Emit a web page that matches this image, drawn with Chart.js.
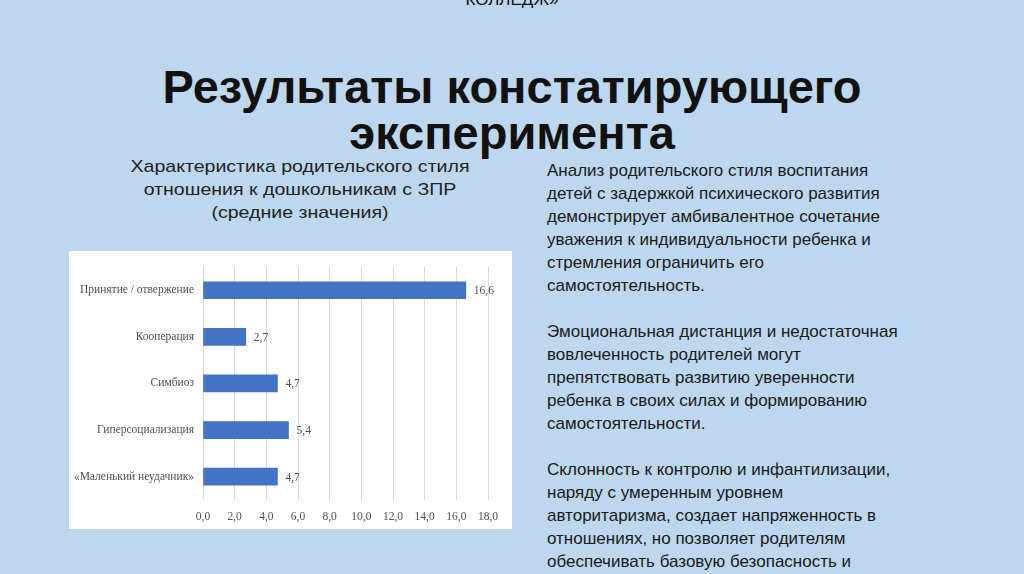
<!DOCTYPE html>
<html lang="ru">
<head>
<meta charset="utf-8">
<script src="https://cdn.jsdelivr.net/npm/chart.js@4/dist/chart.umd.min.js"></script>
<style>
    body { margin: 0; width: 1024px; height: 574px; overflow: hidden; background: #bdd7ee; font-family: 'Liberation Sans', Arial, sans-serif; position: relative; }
    .top { position: absolute; top: -10px; left: 0; width: 1024px; text-align: center; font-size: 17px; color: #111; }
    .title { position: absolute; top: 64px; left: 0; width: 1024px; text-align: center; font-weight: bold; font-size: 47px; line-height: 46px; color: #111; }
    .caption { position: absolute; top: 155px; left: 100px; width: 400px; text-align: center; font-size: 17px; line-height: 23px; color: #222; transform: scaleX(1.15); }
    .text { position: absolute; top: 159px; left: 547px; width: 470px; font-size: 17px; line-height: 23px; color: #1a1a1a; }
    .panel { position: absolute; left: 69px; top: 251px; width: 443px; height: 278px; background: #fff; }
</style>
</head>
<body>
<div class="top">КОЛЛЕДЖ»</div>
<div class="title">Результаты констатирующего<br>эксперимента</div>
<div class="caption">Характеристика родительского стиля<br>отношения к дошкольникам с ЗПР<br>(средние значения)</div>
<div class="text">
Анализ родительского стиля воспитания<br>
детей с задержкой психического развития<br>
демонстрирует амбивалентное сочетание<br>
уважения к индивидуальности ребенка и<br>
стремления ограничить его<br>
самостоятельность.<br><br>
Эмоциональная дистанция и недостаточная<br>
вовлеченность родителей могут<br>
препятствовать развитию уверенности<br>
ребенка в своих силах и формированию<br>
самостоятельности.<br><br>
Склонность к контролю и инфантилизации,<br>
наряду с умеренным уровнем<br>
авторитаризма, создает напряженность в<br>
отношениях, но позволяет родителям<br>
обеспечивать базовую безопасность и
</div>
<div class="panel"><canvas id="styleChart" width="443" height="278"></canvas></div>
<script>
const categories = ['Принятие / отвержение', 'Кооперация', 'Симбиоз', 'Гиперсоциализация', '«Маленький неудачник»'];
const values = [16.6, 2.7, 4.7, 5.4, 4.7];
const axisMax = 18;
const axisStep = 2;

const fmt = (v, d) => v.toFixed(d).replace('.', ',');
const serif = { family: "'Liberation Serif', 'Times New Roman', serif", size: 11.5 };

// value labels to the right of each bar
const barLabels = {
    id: 'barLabels',
    afterDatasetsDraw(chart) {
        const ctx = chart.ctx;
        ctx.save();
        ctx.font = `${serif.size}px ${serif.family}`;
        ctx.fillStyle = '#505050';
        ctx.textBaseline = 'middle';
        chart.getDatasetMeta(0).data.forEach((bar, i) => {
            ctx.fillText(fmt(values[i], 1), bar.x + 8, bar.y + 1);
        });
        ctx.restore();
    }
};

new Chart(document.getElementById('styleChart').getContext('2d'), {
    type: 'bar',
    data: {
        labels: categories,
        datasets: [{
            data: values,
            backgroundColor: '#4472c4',
            borderWidth: 0,
            barThickness: 17
        }]
    },
    options: {
        indexAxis: 'y',
        responsive: false,
        animation: false,
        layout: { padding: { top: 15, right: 24, bottom: 0, left: 0 } },
        plugins: { legend: { display: false }, tooltip: { enabled: false } },
        scales: {
            x: {
                min: 0,
                max: axisMax,
                afterFit: (s) => { s.height = 29; },
                border: { display: false },
                grid: { color: '#d9d9d9', lineWidth: 1, drawTicks: false },
                ticks: { stepSize: axisStep, padding: 10, color: '#505050', font: serif, callback: (v) => fmt(v, 1) }
            },
            y: {
                afterFit: (s) => { s.width = 134; },
                border: { display: false },
                grid: { display: false, drawTicks: false },
                ticks: { padding: 9, color: '#505050', font: serif }
            }
        }
    },
    plugins: [barLabels]
});
</script>
</body>
</html>
